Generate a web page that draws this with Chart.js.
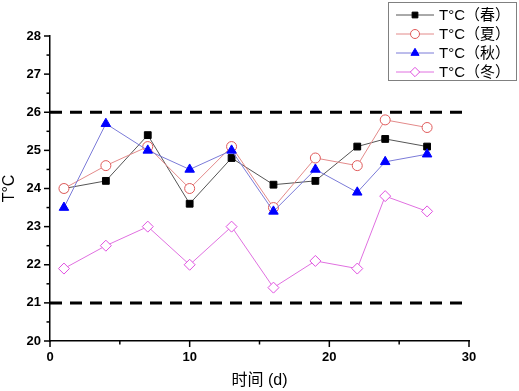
<!DOCTYPE html>
<html><head><meta charset="utf-8">
<script src="https://cdn.jsdelivr.net/npm/chart.js@4/dist/chart.umd.min.js"></script>
<style>html,body{margin:0;padding:0;background:#fff}#wrap{width:519px;height:391px}</style>
</head><body><div id="wrap"><canvas id="c" width="519" height="391"></canvas></div>
<script>
const days = [1, 4, 7, 10, 13, 16, 19, 22, 24, 27];
const spring = [24.0, 24.2, 25.4, 23.6, 24.8, 24.1, 24.2, 25.1, 25.3, 25.1];
const summer = [24.0, 24.6, 25.1, 24.0, 25.1, 23.5, 24.8, 24.6, 25.8, 25.6];
const autumn = [23.5, 25.7, 25.0, 24.5, 25.0, 23.4, 24.5, 23.9, 24.7, 24.9];
const winter = [21.9, 22.5, 23.0, 22.0, 23.0, 21.4, 22.1, 21.9, 23.8, 23.4];
const seriesNames = ['T°C（春）', 'T°C（夏）', 'T°C（秋）', 'T°C（冬）'];
const limitHigh = 26;
const limitLow = 21;
const xRange = [0, 30];
const yRange = [20, 28];

const pts = arr => arr.map((v, i) => ({x: days[i], y: v}));
const series = [
  {label: seriesNames[0], data: pts(spring), borderColor: '#555555', pointStyle: 'rect', pointBackgroundColor: '#000000', pointBorderColor: '#000000', pointRadius: 4.8},
  {label: seriesNames[1], data: pts(summer), borderColor: '#e38a8a', pointStyle: 'circle', pointBackgroundColor: '#ffffff', pointBorderColor: '#e05a5a', pointRadius: 5},
  {label: seriesNames[2], data: pts(autumn), borderColor: '#7b7bd8', pointStyle: 'triangle', pointBackgroundColor: '#0000ff', pointBorderColor: '#0000ff', pointRadius: 5.5},
  {label: seriesNames[3], data: pts(winter), borderColor: '#e070e0', pointStyle: 'rectRot', pointBackgroundColor: '#ffffff', pointBorderColor: '#e050e0', pointRadius: 5.5}
].map(s => Object.assign({showLine: true, borderWidth: 1, pointBorderWidth: 1, pointHoverRadius: 5}, s));

const limitDs = v => ({label: '', isLimit: true, data: [{x: xRange[0], y: v}, {x: xRange[1] - 0.1, y: v}], showLine: true, borderColor: '#000', borderWidth: 3, borderDash: [12, 8], pointRadius: 0});

const tickPlugin = {
  id: 'ticks',
  afterDraw(chart) {
    const ctx = chart.ctx, xs = chart.scales.x, ys = chart.scales.y;
    ctx.save();
    ctx.strokeStyle = '#000'; ctx.lineWidth = 1.5;
    const xb = ys.getPixelForValue(yRange[0]), yl = xs.getPixelForValue(xRange[0]);
    for (let v = xRange[0]; v <= xRange[1]; v += 5) {
      const p = xs.getPixelForValue(v), len = v % 10 === 0 ? 6 : 3.5;
      ctx.beginPath(); ctx.moveTo(p, xb); ctx.lineTo(p, xb + len); ctx.stroke();
    }
    for (let v = yRange[0]; v <= yRange[1] + 1e-9; v += 0.5) {
      const p = ys.getPixelForValue(v), len = Math.abs(v - Math.round(v)) < 1e-9 ? 6 : 3.5;
      ctx.beginPath(); ctx.moveTo(yl, p); ctx.lineTo(yl - len, p); ctx.stroke();
    }
    // legend box
    const bx = 388.5, by = 2.5, bw = 128, bh = 78;
    ctx.fillStyle = '#fff'; ctx.fillRect(bx, by, bw, bh);
    ctx.strokeStyle = '#808080'; ctx.lineWidth = 1; ctx.strokeRect(bx, by, bw, bh);
    ctx.font = '15px "Liberation Sans", "Noto Sans CJK SC", sans-serif';
    ctx.textBaseline = 'middle'; ctx.textAlign = 'left';
    series.forEach((s, i) => {
      const y = 15 + i * 19;
      ctx.strokeStyle = s.borderColor; ctx.lineWidth = 1;
      ctx.beginPath(); ctx.moveTo(396, y); ctx.lineTo(434, y); ctx.stroke();
      ctx.fillStyle = s.pointBackgroundColor; ctx.strokeStyle = s.pointBorderColor;
      Chart.helpers.drawPoint(ctx, {pointStyle: s.pointStyle, radius: s.pointStyle === 'circle' ? 4.5 : s.pointRadius * 0.85, borderWidth: 1}, 415, y);
      ctx.fillStyle = '#000';
      ctx.fillText(s.label, 439, y + 1);
    });
    ctx.restore();
  }
};

new Chart(document.getElementById('c'), {
  type: 'scatter',
  data: {datasets: [limitDs(limitHigh), limitDs(limitLow), ...series.slice().reverse()]},
  options: {
    responsive: false, animation: false,
    layout: {padding: {top: 36, right: 50, left: 0, bottom: 0}},
    plugins: {legend: {display: false}, tooltip: {enabled: false}},
    scales: {
      x: {
        type: 'linear', min: xRange[0], max: xRange[1],
        afterFit: s => { s.height = 50; },
        grid: {display: false, drawTicks: false},
        border: {display: true, color: '#000', width: 1.5},
        ticks: {stepSize: 5, autoSkip: false, padding: 9, color: '#000', font: {size: 13, weight: 'bold', family: '"Liberation Sans", Arial'}, callback: v => v % 10 === 0 ? v : ''},
        title: {display: true, text: '时间 (d)', color: '#000', font: {size: 16, family: '"Liberation Sans", "Noto Sans CJK SC"'}, padding: {top: 0, bottom: 1}}
      },
      y: {
        type: 'linear', min: yRange[0], max: yRange[1],
        afterFit: s => { s.width = 50; },
        grid: {display: false, drawTicks: false},
        border: {display: true, color: '#000', width: 1.5},
        ticks: {stepSize: 0.5, autoSkip: false, padding: 9, color: '#000', font: {size: 13, weight: 'bold', family: '"Liberation Sans", Arial'}, callback: v => Number.isInteger(v) ? v : ''},
        title: {display: true, text: 'T°C', color: '#000', font: {size: 16, family: '"Liberation Sans", "Noto Sans CJK SC"'}, padding: {top: 0, bottom: 0}}
      }
    }
  },
  plugins: [tickPlugin]
});
</script></body></html>
